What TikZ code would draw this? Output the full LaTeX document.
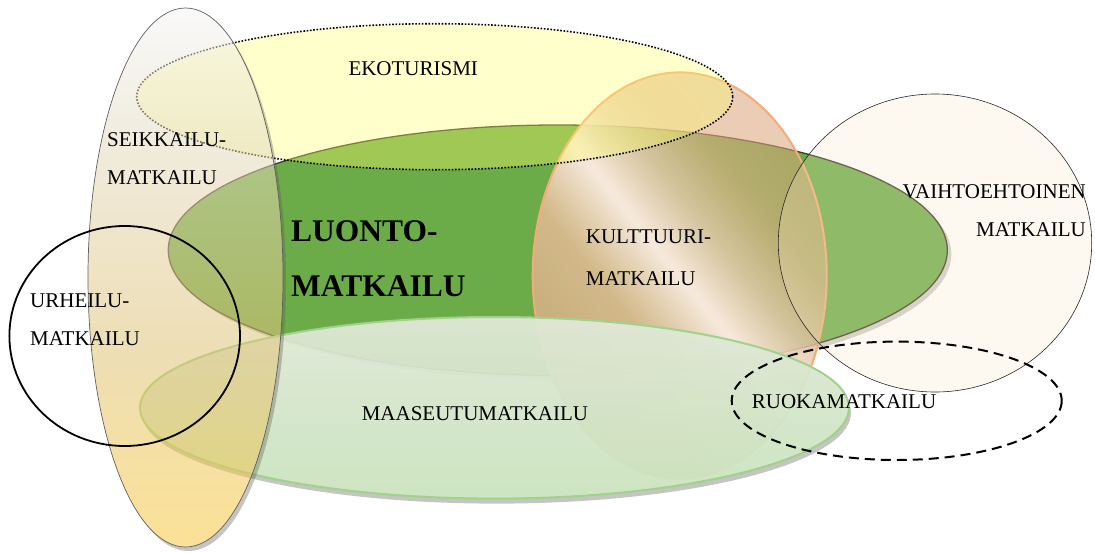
\documentclass[tikz,border=0pt]{standalone}
\usepackage{fontspec}
\setmainfont{Liberation Serif}
\usetikzlibrary{shadows,fadings}
\definecolor{lgreen}{RGB}{108,172,72}
\definecolor{lborder}{RGB}{65,55,40}
\definecolor{ekofill}{RGB}{255,255,109}
\definecolor{seiktop}{RGB}{245,245,245}
\definecolor{seikmA}{RGB}{228,219,191}
\definecolor{seikmB}{RGB}{224,195,119}
\definecolor{seikbot}{RGB}{250,202,64}
\definecolor{seikline}{RGB}{95,95,95}
\definecolor{kultA}{RGB}{218,170,130}
\definecolor{kultM}{RGB}{228,188,150}
\definecolor{kultH}{RGB}{252,236,226}
\definecolor{kultN}{RGB}{232,200,172}
\definecolor{kultP}{RGB}{225,175,135}
\definecolor{kultB}{RGB}{220,165,124}
\definecolor{kultline}{RGB}{245,170,120}
\definecolor{maatop}{RGB}{225,233,218}
\definecolor{maamid}{RGB}{214,230,204}
\definecolor{maabot}{RGB}{202,228,190}
\definecolor{maaline}{RGB}{160,210,140}
\definecolor{vaifill}{RGB}{251,232,200}
\definecolor{shadowcol}{RGB}{90,90,80}
\pgfdeclareverticalshading{seiksh}{100bp}{color(0bp)=(seikbot); color(25bp)=(seikbot); color(43bp)=(seikmB); color(62bp)=(seikmA); color(75bp)=(seiktop); color(100bp)=(seiktop)}
\pgfdeclarehorizontalshading{kultsh}{100bp}{color(0bp)=(kultA); color(33bp)=(kultA); color(44bp)=(kultM); color(50.4bp)=(kultH); color(56bp)=(kultN); color(61bp)=(kultP); color(67bp)=(kultB); color(100bp)=(kultB)}
\pgfdeclarehorizontalshading{kultfadesh}{100bp}{color(0bp)=(white!80!black); color(33bp)=(white!80!black); color(44bp)=(white!86!black); color(50.4bp)=(white!97!black); color(56bp)=(white!80!black); color(61bp)=(white!62!black); color(67bp)=(white!55!black); color(100bp)=(white!55!black)}
\pgfdeclarefading{kultfade}{\pgfuseshading{kultfadesh}}
\pgfdeclareverticalshading{maash}{100bp}{color(0bp)=(maabot); color(25bp)=(maabot); color(55bp)=(maamid); color(75bp)=(maatop); color(100bp)=(maatop)}
\tikzset{
  lbl/.style={inner sep=0pt, font=\fontsize{21}{25}\selectfont},
  bigl/.style={inner sep=0pt, font=\fontsize{31.5}{36}\selectfont\bfseries},
}
\begin{document}
\begin{tikzpicture}[x=1pt,y=-1pt]
\useasboundingbox (0,0) rectangle (1095,552);
\fill[white] (0,0) rectangle (1095,552);
% LUONTOMATKAILU (green)
\path[fill=lgreen, draw=lborder, line width=1.3pt,
  drop shadow={shadow xshift=4pt, shadow yshift=-4pt, opacity=0.3, fill=shadowcol}]
  (557.8,250.2) ellipse [x radius=389.5, y radius=125.2];
% KULTTUURI
\begin{scope}
  \clip (679.7,275.4) ellipse [x radius=147, y radius=203];
  \shade[shading=kultsh, shading angle=39, path fading=kultfade, fading angle=39] (429.7,25.4) rectangle (929.7,525.4);
\end{scope}
\draw[kultline, line width=2pt] (679.7,275.4) ellipse [x radius=147, y radius=203];
% EKOTURISMI
\path[fill=ekofill, fill opacity=0.35] (434.7,96.7) ellipse [x radius=298, y radius=73];
\draw[black, line width=1.6pt, dash pattern=on 1.6pt off 1.7pt] (434.7,96.7) ellipse [x radius=298, y radius=73];
% MAASEUTUMATKAILU
\begin{scope}[even odd rule]
  \clip (0,0) rectangle (1095,552) (494.5,407.8) ellipse [x radius=354.5, y radius=90.8];
  \fill[shadowcol, opacity=0.35] (496.5,412.8) ellipse [x radius=354.5, y radius=90.8];
\end{scope}
\shade[shading=maash, opacity=0.94] (494.5,407.8) ellipse [x radius=354.5, y radius=90.8];
\draw[maaline, line width=2pt] (494.5,407.8) ellipse [x radius=354.5, y radius=90.8];
% SEIKKAILUMATKAILU
\begin{scope}[even odd rule]
  \clip (0,0) rectangle (1095,552) (185.5,277.5) ellipse [x radius=97.5, y radius=269.5];
  \fill[shadowcol, opacity=0.35] (188.5,281.5) ellipse [x radius=97.5, y radius=269.5];
\end{scope}
\shade[shading=seiksh, opacity=0.55] (185.5,277.5) ellipse [x radius=97.5, y radius=269.5];
\draw[seikline, line width=0.7pt] (185.5,277.5) ellipse [x radius=97.5, y radius=269.5];
% VAIHTOEHTOINEN
\path[fill=vaifill, fill opacity=0.25] (935,243) ellipse [x radius=156.7, y radius=149];
\draw[black!85, line width=0.6pt] (935,243) ellipse [x radius=156.7, y radius=149];
% URHEILU
\draw[black, line width=1.8pt] (124.7,336) ellipse [x radius=115.3, y radius=110];
% RUOKA
\draw[black, line width=2pt, dash pattern=on 10pt off 6pt] (896.7,400.8) ellipse [x radius=165, y radius=59.2];
% texts
\node[lbl, anchor=base west] (eko) at (348.3,75) {EKOTURISMI};
\node[lbl, anchor=base west] (seik1) at (107,146.5) {SEIKKAILU-};
\node[lbl, anchor=base west] (seik2) at (107,184.3) {MATKAILU};
\node[lbl, anchor=base west] (urh1) at (30,307) {URHEILU-};
\node[lbl, anchor=base west] (urh2) at (30,345) {MATKAILU};
\node[bigl, anchor=base west] (luo1) at (291,241.7) {LUONTO-};
\node[bigl, anchor=base west] (luo2) at (291,296) {MATKAILU};
\node[lbl, anchor=base west] (kul1) at (585.7,243) {KULTTUURI-};
\node[lbl, anchor=base west] (kul2) at (585.7,285) {MATKAILU};
\node[lbl, anchor=base east] (vai1) at (1086,198) {VAIHTOEHTOINEN};
\node[lbl, anchor=base east] (vai2) at (1086,236) {MATKAILU};
\node[lbl, anchor=base east] (maa) at (588.3,420.3) {MAASEUTUMATKAILU};
\node[lbl, anchor=base west] (ruo) at (751.7,408) {RUOKAMATKAILU};
\end{tikzpicture}
\end{document}
